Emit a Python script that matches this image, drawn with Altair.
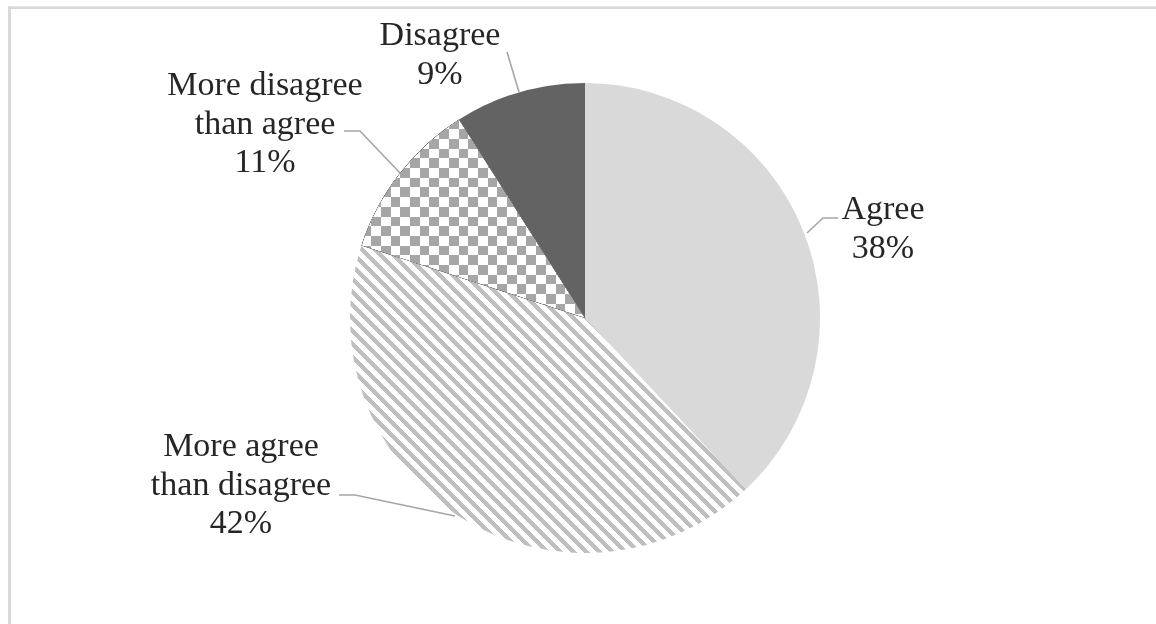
import math
import altair as alt
import pandas as pd

# ---------------- data ----------------
categories = ["Agree", "More agree than disagree", "More disagree than agree", "Disagree"]
values = [38, 42, 11, 9]
order = [1, 2, 3, 4]

# ---------------- layout / style ----------------
W, H = 1156, 624
CX, CY, R = 585, 318, 235
FONT = "Liberation Serif"
FONT_SIZE = 34
LINE_H = 38.5
TEXT_COLOR = "#262626"
LEADER_COLOR = "#a6a6a6"

label_wrap = {
    "Agree": ["Agree"],
    "More agree than disagree": ["More agree", "than disagree"],
    "More disagree than agree": ["More disagree", "than agree"],
    "Disagree": ["Disagree"],
}
# label centre x, first baseline y
label_pos = {
    "Agree": (883, 219),
    "More agree than disagree": (241, 456),
    "More disagree than agree": (265, 95),
    "Disagree": (440, 45),
}
leader_pts = {
    "Agree": [(838, 218), (823, 218), (807, 233)],
    "More agree than disagree": [(339, 495), (355, 495), (455, 516)],
    "More disagree than agree": [(344, 131), (360, 131), (400, 173)],
    "Disagree": [(507, 52), (519, 92)],
}

# ---------------- pattern helpers (style only) ----------------
total = sum(values)
angles = {}
c = 0
for cat, v in zip(categories, values):
    angles[cat] = (2 * math.pi * c / total, 2 * math.pi * (c + v) / total)
    c += v


def slice_bbox(t0, t1):
    xs, ys = [0.0], [0.0]
    angs = [t0, t1] + [k * math.pi / 2 for k in range(5) if t0 < k * math.pi / 2 < t1]
    for a in angs:
        xs.append(R * math.sin(a))
        ys.append(-R * math.cos(a))
    return max(xs) - min(xs), max(ys) - min(ys)


def stripe_gradient(cat, normal, period, c_a, c_b, frac_a=0.5):
    w, h = slice_bbox(*angles[cat])
    nx, ny = normal
    n = math.hypot(nx, ny)
    nx, ny = nx / n, ny / n
    proj = w * abs(nx) + h * abs(ny)
    N = math.ceil(proj / period)
    L = N * period
    gx, gy = w * nx / L, h * ny / L
    g2 = gx * gx + gy * gy
    du, dv = gx / g2, gy / g2
    u1 = 0 if nx >= 0 else 1
    v1 = 0 if ny >= 0 else 1
    stops = []
    for i in range(N):
        a = round(i / N, 6)
        m = round((i + frac_a) / N, 6)
        b = round((i + 1) / N, 6)
        stops += [
            {"offset": a, "color": c_a},
            {"offset": m, "color": c_a},
            {"offset": m, "color": c_b},
            {"offset": b, "color": c_b},
        ]
    return {
        "gradient": "linear",
        "x1": u1, "y1": v1,
        "x2": round(u1 + du, 6), "y2": round(v1 + dv, 6),
        "stops": stops,
    }


# ---------------- chart ----------------
df = pd.DataFrame({"category": categories, "value": values, "order": order})

base = (
    alt.Chart(df)
    .transform_joinaggregate(total="sum(value)")
    .transform_window(cum="sum(value)", sort=[alt.SortField("order")], frame=[None, 0])
    .transform_calculate(
        t0="2*PI*(datum.cum - datum.value)/datum.total",
        t1="2*PI*datum.cum/datum.total",
    )
)


def slice_layer(cat, **mark_kw):
    return (
        base.transform_filter(alt.datum.category == cat)
        .mark_arc(outerRadius=R, **mark_kw)
        .encode(
            theta=alt.Theta("t0:Q", scale=None),
            theta2=alt.Theta2("t1:Q"),
            x=alt.value(CX),
            y=alt.value(CY),
        )
    )


agree = slice_layer("Agree", fill="#d9d9d9")
disagree = slice_layer("Disagree", fill="#636363")
more_agree = slice_layer(
    "More agree than disagree",
    fill=stripe_gradient("More agree than disagree", (1, -1), 9.2, "#bfbfbf", "#ffffff", 0.5),
)
# checkerboard from two stripe sets combined with difference blending
chk1 = slice_layer(
    "More disagree than agree",
    fill=stripe_gradient("More disagree than agree", (0, 1), 19.4, "#000000", "#595959"),
)
chk2 = slice_layer(
    "More disagree than agree",
    fill=stripe_gradient("More disagree than agree", (1, 0), 19.4, "#000000", "#595959"),
    blend="difference",
)
chk3 = slice_layer("More disagree than agree", fill="#ffffff", blend="difference")

# labels
lab_df = pd.DataFrame({
    "category": categories,
    "txt": ["|".join(label_wrap[cat] + [f"{v}%"]) for cat, v in zip(categories, values)],
    "lx": [label_pos[cat][0] for cat in categories],
    "ly": [label_pos[cat][1] for cat in categories],
})
labels = (
    alt.Chart(lab_df)
    .transform_calculate(lines="split(datum.txt, '|')")
    .mark_text(align="center", baseline="alphabetic", lineHeight=LINE_H,
               font=FONT, fontSize=FONT_SIZE, color=TEXT_COLOR)
    .encode(
        x=alt.X("lx:Q", scale=None, axis=None),
        y=alt.Y("ly:Q", scale=None, axis=None),
        text=alt.Text("lines:N"),
    )
)

# leader lines
rows = []
for cat in categories:
    for i, (px, py) in enumerate(leader_pts[cat]):
        rows.append({"category": cat, "seq": i, "px": px, "py": py})
lead_df = pd.DataFrame(rows)
leaders = (
    alt.Chart(lead_df)
    .mark_line(color=LEADER_COLOR, strokeWidth=1.6)
    .encode(
        x=alt.X("px:Q", scale=None, axis=None),
        y=alt.Y("py:Q", scale=None, axis=None),
        detail="category:N",
        order="seq:Q",
    )
)

# chart-area border (partially visible)
border_top = alt.Chart(df).mark_rule(color="#d9d9d9", strokeWidth=2).encode(
    x=alt.value(8), x2=alt.value(W), y=alt.value(7.7)
)
border_left = alt.Chart(df).mark_rule(color="#d9d9d9", strokeWidth=2.5).encode(
    x=alt.value(9.6), y=alt.value(6.7), y2=alt.value(H)
)

chart = (
    alt.layer(border_top, border_left, agree, more_agree, chk1, chk2, chk3, disagree, leaders, labels)
    .properties(width=W, height=H, padding=0, autosize=alt.AutoSizeParams(type="none"),
                background="white")
    .configure_view(stroke=None)
)

chart.save("out.html", embed_options={"renderer": "svg", "actions": False})
